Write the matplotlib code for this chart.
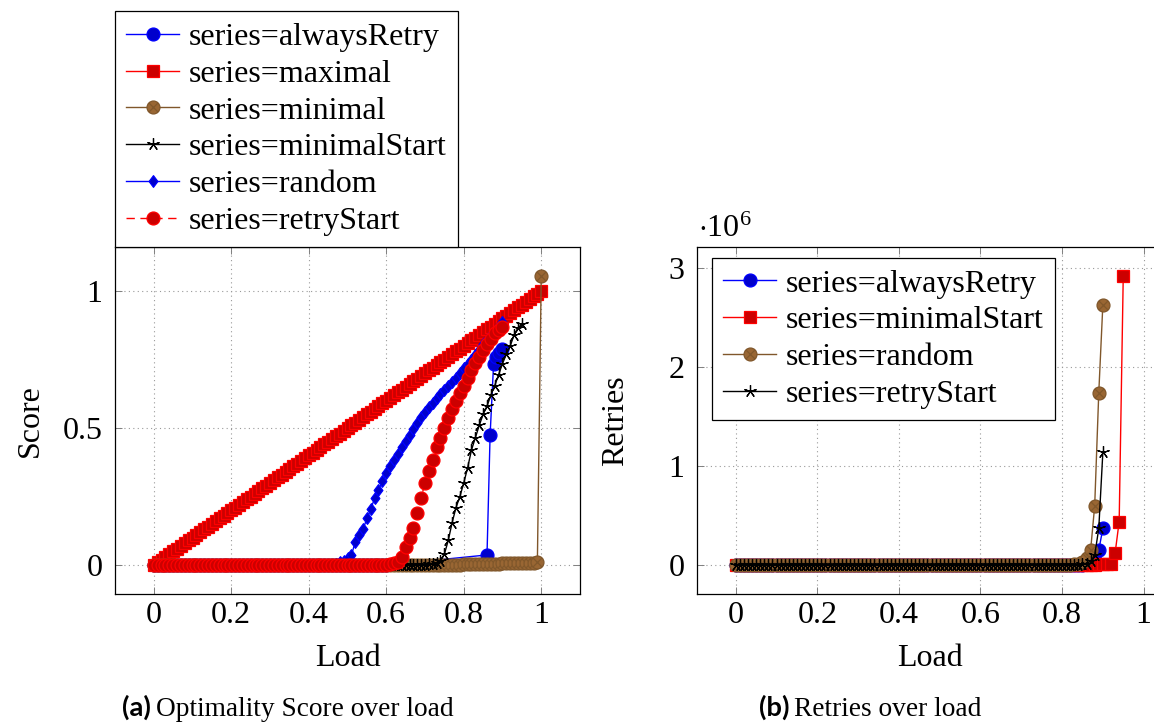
import numpy as np
import matplotlib
matplotlib.use('Agg')
import matplotlib.pyplot as plt
from matplotlib.path import Path
from matplotlib.ticker import FixedLocator, FuncFormatter

# ---------------- data ----------------
load = [0.00, 0.01, 0.02, 0.03, 0.04, 0.05, 0.06, 0.07, 0.08, 0.09,
        0.10, 0.11, 0.12, 0.13, 0.14, 0.15, 0.16, 0.17, 0.18, 0.19,
        0.20, 0.21, 0.22, 0.23, 0.24, 0.25, 0.26, 0.27, 0.28, 0.29,
        0.30, 0.31, 0.32, 0.33, 0.34, 0.35, 0.36, 0.37, 0.38, 0.39,
        0.40, 0.41, 0.42, 0.43, 0.44, 0.45, 0.46, 0.47, 0.48, 0.49,
        0.50, 0.51, 0.52, 0.53, 0.54, 0.55, 0.56, 0.57, 0.58, 0.59,
        0.60, 0.61, 0.62, 0.63, 0.64, 0.65, 0.66, 0.67, 0.68, 0.69,
        0.70, 0.71, 0.72, 0.73, 0.74, 0.75, 0.76, 0.77, 0.78, 0.79,
        0.80, 0.81, 0.82, 0.83, 0.84, 0.85, 0.86, 0.87, 0.88, 0.89,
        0.90, 0.91, 0.92, 0.93, 0.94, 0.95, 0.96, 0.97, 0.98, 0.99, 1.00]

# (a) optimality score
always_retry_load = load[:61] + [0.860, 0.868, 0.877, 0.884, 0.892, 0.900]
always_retry_score = [0.0] * 61 + [0.037, 0.474, 0.733, 0.760, 0.775, 0.788]

maximal_score = [0.00, 0.01, 0.02, 0.03, 0.04, 0.05, 0.06, 0.07, 0.08, 0.09,
                 0.10, 0.11, 0.12, 0.13, 0.14, 0.15, 0.16, 0.17, 0.18, 0.19,
                 0.20, 0.21, 0.22, 0.23, 0.24, 0.25, 0.26, 0.27, 0.28, 0.29,
                 0.30, 0.31, 0.32, 0.33, 0.34, 0.35, 0.36, 0.37, 0.38, 0.39,
                 0.40, 0.41, 0.42, 0.43, 0.44, 0.45, 0.46, 0.47, 0.48, 0.49,
                 0.50, 0.51, 0.52, 0.53, 0.54, 0.55, 0.56, 0.57, 0.58, 0.59,
                 0.60, 0.61, 0.62, 0.63, 0.64, 0.65, 0.66, 0.67, 0.68, 0.69,
                 0.70, 0.71, 0.72, 0.73, 0.74, 0.75, 0.76, 0.77, 0.78, 0.79,
                 0.80, 0.81, 0.82, 0.83, 0.84, 0.85, 0.86, 0.87, 0.88, 0.89,
                 0.90, 0.91, 0.92, 0.93, 0.94, 0.95, 0.96, 0.97, 0.98, 0.99, 1.00]

minimal_score = ([0.0] * 60 +
                 [0.001, 0.001, 0.001, 0.001, 0.001, 0.001, 0.001, 0.001, 0.001, 0.001,
                  0.002, 0.002, 0.002, 0.002, 0.002, 0.002, 0.002, 0.002, 0.002, 0.002,
                  0.004, 0.004, 0.004, 0.004, 0.004, 0.004, 0.004, 0.004, 0.004, 0.004,
                  0.006, 0.006, 0.006, 0.006, 0.006, 0.008, 0.008, 0.008, 0.008, 0.010,
                  1.055])

minimal_start_score = ([0.0] * 70 +
                       [0.002, 0.003, 0.005, 0.009, 0.016, 0.040, 0.090, 0.155, 0.210, 0.250,
                        0.300, 0.355, 0.420, 0.465, 0.510, 0.550, 0.580, 0.620, 0.655, 0.695,
                        0.735, 0.770, 0.800, 0.840, 0.865, 0.880])

random_score = ([0.0] * 46 +
                [0.002, 0.005, 0.010, 0.015, 0.025,
                 0.035, 0.085, 0.110, 0.130, 0.170,
                 0.203, 0.245, 0.275, 0.305, 0.335,
                 0.360, 0.385, 0.405, 0.430, 0.452,
                 0.475, 0.498, 0.520, 0.540, 0.557,
                 0.575, 0.592, 0.608, 0.624, 0.639,
                 0.654, 0.668, 0.682, 0.700, 0.718,
                 0.735, 0.750, 0.767, 0.785, 0.805,
                 0.823, 0.838, 0.855, 0.872, 0.888])

retry_start_score = ([0.0] * 60 +
                     [0.002, 0.004, 0.007, 0.012, 0.030, 0.065, 0.100, 0.135, 0.190, 0.245,
                      0.300, 0.345, 0.385, 0.430, 0.465, 0.500, 0.535, 0.568, 0.598, 0.628,
                      0.655, 0.683, 0.710, 0.736, 0.760, 0.783, 0.806, 0.826, 0.845, 0.858,
                      0.868])

# (b) retries
always_retry_retries = [0] * 85 + [3000, 8000, 20000, 50000, 150000, 370000]
minimal_start_retries = [0] * 87 + [2000, 4000, 6000, 8000, 10000, 15000, 120000, 440000, 2920000]
random_retries = [0] * 81 + [2000, 4000, 8000, 15000, 30000, 70000, 150000, 600000, 1740000, 2630000]
retry_start_retries = [0] * 83 + [2000, 4000, 8000, 15000, 40000, 100000, 370000, 1140000]

x_ticks = [0, 0.2, 0.4, 0.6, 0.8, 1.0]
score_ticks = [0, 0.5, 1.0]
retries_ticks = [0, 1e6, 2e6, 3e6]

# ---------------- style ----------------
plt.rcParams['font.family'] = ['Liberation Serif', 'DejaVu Serif']
plt.rcParams['mathtext.fontset'] = 'custom'
plt.rcParams['mathtext.rm'] = 'Liberation Serif'
plt.rcParams['mathtext.it'] = 'Liberation Serif:italic'

W, H = 1154, 722
fig = plt.figure(figsize=(W / 100, H / 100), dpi=100)
renderer = fig.canvas.get_renderer()


def fit_size(text, target_px, **kw):
    t = fig.text(0, 0, text, fontsize=20, **kw)
    w = t.get_window_extent(renderer=renderer).width
    t.remove()
    return 20 * target_px / w


FS = fit_size('series=alwaysRetry', 251)
CAP_FS = fit_size('Optimality Score over load', 298)

BLUE, BLUE_F = (0, 0, 1), (0, 0, 0.8)
RED, RED_F = (1, 0, 0), (0.8, 0, 0)
BROWN, BROWN_F = (0.5, 0.34, 0.17), (0.6, 0.4, 0.2)

circ = Path.unit_circle()
d = 0.7071
otimes = Path(np.concatenate([circ.vertices, [[-d, -d], [d, d], [-d, d], [d, -d]]]),
              np.concatenate([circ.codes, [Path.MOVETO, Path.LINETO, Path.MOVETO, Path.LINETO]]))
diamond = Path([(0, 1), (0.75, 0), (0, -1), (-0.75, 0), (0, 1)],
               [Path.MOVETO, Path.LINETO, Path.LINETO, Path.LINETO, Path.CLOSEPOLY])

STYLE = {
    'alwaysRetry': dict(color=BLUE, marker='o', mfc=BLUE_F, mec=BLUE, ms=9.3, ls='-'),
    'maximal': dict(color=RED, marker='s', mfc=RED_F, mec=RED, ms=8.6, ls='-'),
    'minimal': dict(color=BROWN, marker=otimes, mfc=BROWN_F, mec=BROWN, ms=9.3, ls='-'),
    'minimalStart': dict(color='black', marker=(5, 2, 0), mec='black', ms=9.0, ls='-'),
    'random': dict(color=BLUE, marker=diamond, mfc=BLUE_F, mec=BLUE, ms=8.4, ls='-'),
    'retryStart': dict(color=RED, marker='o', mfc=RED_F, mec=RED, ms=9.3, ls=(0, (6, 4))),
}


def plot_series(ax, name, x, y, label=None):
    st = dict(STYLE[name])
    return ax.plot(x, y, lw=1.0, mew=0.9, label='series=' + (label or name), **st)[0]


def style_axes(ax):
    ax.grid(True, color='0.6', linestyle=(0, (1, 3)), linewidth=0.8)
    ax.set_axisbelow(True)
    ax.tick_params(direction='in', top=True, right=True, length=5, width=0.7,
                   color='0.5', labelsize=FS, labelcolor='black')
    ax.tick_params(axis='x', pad=5)
    ax.tick_params(axis='y', pad=9)
    for s in ax.spines.values():
        s.set_linewidth(0.9)
        s.set_color('black')
    ax.xaxis.set_major_locator(FixedLocator(x_ticks))
    ax.xaxis.set_major_formatter(FuncFormatter(lambda v, p: f'{v:g}'))


LEG_KW = dict(fontsize=FS, frameon=True, fancybox=False, edgecolor='black', framealpha=1,
              handlelength=1.65, handletextpad=0.3, labelspacing=0.23, borderpad=0.35,
              numpoints=1, borderaxespad=0)

# ---------------- (a) ----------------
ax1 = fig.add_axes([115 / W, 1 - 594 / H, 465 / W, 347 / H])
style_axes(ax1)
plot_series(ax1, 'alwaysRetry', always_retry_load, always_retry_score)
plot_series(ax1, 'maximal', load, maximal_score)
plot_series(ax1, 'minimal', load, minimal_score)
plot_series(ax1, 'minimalStart', load[:96], minimal_start_score)
plot_series(ax1, 'random', load[:91], random_score)
plot_series(ax1, 'retryStart', load[:91], retry_start_score)
ax1.set_xlim(-0.1, 1.1)
ax1.set_ylim(-0.1055, 1.1605)
ax1.yaxis.set_major_locator(FixedLocator(score_ticks))
ax1.yaxis.set_major_formatter(FuncFormatter(lambda v, p: f'{v:g}'))
ax1.set_xlabel('Load', fontsize=FS)
ax1.set_ylabel('Score', fontsize=FS)
ax1.xaxis.set_label_coords(0.5, (594 - 658) / 347)
ax1.xaxis.label.set_va('center')
ax1.yaxis.set_label_coords((30 - 115) / 465, 0.5)
ax1.yaxis.label.set_va('center')
leg1 = ax1.legend(loc='lower left', bbox_to_anchor=(0, 1), **LEG_KW)
leg1.get_frame().set_linewidth(0.9)

# ---------------- (b) ----------------
ax2 = fig.add_axes([697 / W, 1 - 594 / H, 465 / W, 347 / H])
style_axes(ax2)
plot_series(ax2, 'alwaysRetry', load[:91], always_retry_retries)
plot_series(ax2, 'maximal', load[:96], minimal_start_retries, label='minimalStart')
plot_series(ax2, 'minimal', load[:91], random_retries, label='random')
plot_series(ax2, 'minimalStart', load[:91], retry_start_retries, label='retryStart')
ax2.set_xlim(-0.095, 1.045)
ax2.set_ylim(-0.292e6, 3.212e6)
ax2.yaxis.set_major_locator(FixedLocator(retries_ticks))
ax2.yaxis.set_major_formatter(FuncFormatter(lambda v, p: f'{v / 1e6:g}'))
ax2.set_xlabel('Load', fontsize=FS)
ax2.set_ylabel('Retries', fontsize=FS)
ax2.xaxis.set_label_coords(0.5, (594 - 658) / 347)
ax2.xaxis.label.set_va('center')
ax2.yaxis.set_label_coords((616 - 697) / 465, 0.5)
ax2.yaxis.label.set_va('center')
leg2 = ax2.legend(loc='upper left', bbox_to_anchor=(712 / W, 1 - 258 / H),
                  bbox_transform=fig.transFigure, **LEG_KW)
leg2.get_frame().set_linewidth(0.9)
fig.text(698 / W, 1 - 229 / H, r'$\cdot 10^{6}$', fontsize=FS, ha='left', va='center')

# ---------------- captions ----------------
fig.text(151 / W, 1 - 716 / H, '(a)', fontsize=CAP_FS, family=['Lato', 'DejaVu Sans'],
         weight='bold', ha='right', va='baseline')
fig.text(156 / W, 1 - 716 / H, 'Optimality Score over load', fontsize=CAP_FS,
         ha='left', va='baseline')
fig.text(789 / W, 1 - 716 / H, '(b)', fontsize=CAP_FS, family=['Lato', 'DejaVu Sans'],
         weight='bold', ha='right', va='baseline')
fig.text(794 / W, 1 - 716 / H, 'Retries over load', fontsize=CAP_FS,
         ha='left', va='baseline')

fig.savefig('out.png', dpi=100)
